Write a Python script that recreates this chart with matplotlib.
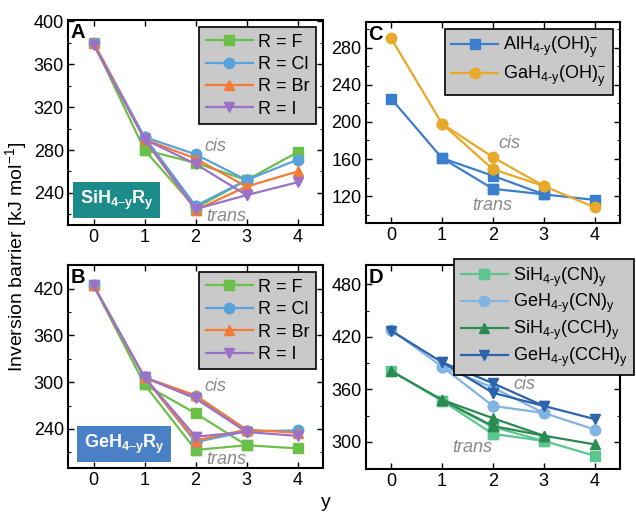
import matplotlib
matplotlib.use("Agg")
import matplotlib.pyplot as plt
from matplotlib.ticker import MultipleLocator, AutoMinorLocator

plt.rcParams['font.family'] = ['Liberation Sans', 'DejaVu Sans']
plt.rcParams['mathtext.fontset'] = 'custom'
plt.rcParams['mathtext.rm'] = 'Liberation Sans'
plt.rcParams['mathtext.it'] = 'Liberation Sans:italic'
plt.rcParams['mathtext.bf'] = 'Liberation Sans:bold'
plt.rcParams['mathtext.default'] = 'regular'

# x positions: 0, 1, 2(cis), 2(trans), 3, 4
y_vals = [0, 1, 2, 3, 4]

# Panel A: SiH4-yRy   values at [0, 1, 2cis, 2trans, 3, 4]
A_labels = ["R = F", "R = Cl", "R = Br", "R = I"]
A_F = [380, 280, 268, 226, 252, 278]
A_Cl = [380, 292, 276, 228, 252, 271]
A_Br = [380, 290, 272, 224, 246, 260]
A_I = [378, 290, 267, 225, 238, 250]

# Panel B: GeH4-yRy
B_F = [424, 297, 260, 213, 219, 215]
B_Cl = [424, 306, 282, 223, 237, 238]
B_Br = [424, 306, 283, 225, 239, 235]
B_I = [424, 306, 279, 230, 236, 231]

# Panel C
C_labels = [r"AlH$_{4\text{-y}}$(OH)$_{y}^{-}$", r"GaH$_{4\text{-y}}$(OH)$_{y}^{-}$"]
C_Al = [225, 161, 142, 128, 122, 116]
C_Ga = [290, 198, 162, 149, 131, 108]

# Panel D
D_labels = [r"SiH$_{4\text{-y}}$(CN)$_{y}$", r"GeH$_{4\text{-y}}$(CN)$_{y}$",
            r"SiH$_{4\text{-y}}$(CCH)$_{y}$", r"GeH$_{4\text{-y}}$(CCH)$_{y}$"]
D_SiCN = [381, 347, 317, 309, 301, 284]
D_GeCN = [428, 386, 362, 341, 333, 314]
D_SiCCH = [381, 348, 327, 318, 307, 297]
D_GeCCH = [427, 391, 367, 356, 341, 326]

col4 = ['#6cc04a', '#5aa2dc', '#f47a36', '#9b72c8']
mk4 = ['s', 'o', '^', 'v']

fig = plt.figure(figsize=(6.36, 5.13), dpi=100)

def draw_series(ax, vals, color, marker, label, ms=7.5, lw=1.6):
    main = [vals[0], vals[1], vals[2], vals[4], vals[5]]
    trans = [vals[1], vals[3], vals[4]]
    ax.plot(y_vals, main, color=color, marker=marker, ms=ms, lw=lw, label=label, zorder=3)
    ax.plot([1, 2, 3], trans, color=color, marker=marker, ms=ms, lw=lw, zorder=3)
    ax.plot([2], [vals[3]], color=color, marker=marker, ms=ms, lw=0, zorder=3)

def style(ax, ylim, major, letter):
    ax.set_xlim(-0.5, 4.5)
    ax.set_ylim(*ylim)
    ax.xaxis.set_major_locator(MultipleLocator(1))
    ax.yaxis.set_major_locator(MultipleLocator(major))
    ax.yaxis.set_minor_locator(AutoMinorLocator(2))
    ax.tick_params(which='both', direction='in', top=True, right=True, labelsize=13, pad=3)
    ax.tick_params(which='major', length=4, width=1)
    ax.tick_params(which='minor', length=2.5, width=0.8)
    for s in ax.spines.values():
        s.set_linewidth(1.5)
    ax.text(0.01, 0.985, letter, transform=ax.transAxes, fontsize=14.5, fontweight='bold',
            va='top', ha='left')

def legend(ax, **kw):
    opts = dict(frameon=True, fancybox=False, fontsize=13, handlelength=2.6,
                handletextpad=0.3, borderpad=0.35, labelspacing=0.3,
                borderaxespad=0.4)
    opts.update(kw)
    leg = ax.legend(**opts)
    leg.get_frame().set_facecolor('#c9c9c9')
    leg.get_frame().set_edgecolor('black')
    leg.get_frame().set_linewidth(1.2)
    leg.get_frame().set_alpha(1)
    return leg

gray = '#8a8a8a'

# Panel A
axA = fig.add_axes([0.107, 0.561, 0.401, 0.400])
for v, c, m, l in zip([A_F, A_Cl, A_Br, A_I], col4, mk4, A_labels):
    draw_series(axA, v, c, m, l)
style(axA, (210, 401), 40, 'A')
legend(axA, loc='upper right')
axA.text(2.39, 283, 'cis', color=gray, style='italic', fontsize=13, ha='center', va='center')
axA.text(2.6, 218, 'trans', color=gray, style='italic', fontsize=13, ha='center', va='center')
axA.text(0.19, 0.122, r"SiH$_{4\text{–}y}$R$_{y}$", transform=axA.transAxes, color='white',
         fontsize=13, fontweight='bold', ha='center', va='center',
         bbox=dict(boxstyle='square,pad=0.35', fc='#1b8c8a', ec='none'))

# Panel B
axB = fig.add_axes([0.107, 0.088, 0.401, 0.395])
for v, c, m, l in zip([B_F, B_Cl, B_Br, B_I], col4, mk4, A_labels):
    draw_series(axB, v, c, m, l)
style(axB, (190, 450), 60, 'B')
legend(axB, loc='upper right')
axB.text(2.39, 294, 'cis', color=gray, style='italic', fontsize=13, ha='center', va='center')
axB.text(2.6, 201, 'trans', color=gray, style='italic', fontsize=13, ha='center', va='center')
axB.text(0.22, 0.118, r"GeH$_{4\text{–}y}$R$_{y}$", transform=axB.transAxes, color='white',
         fontsize=13, fontweight='bold', ha='center', va='center',
         bbox=dict(boxstyle='square,pad=0.35', fc='#4a80c6', ec='none'))

# Panel C
axC = fig.add_axes([0.575, 0.565, 0.400, 0.393])
draw_series(axC, C_Al, '#3b7fcc', 's', C_labels[0])
draw_series(axC, C_Ga, '#e8a92a', 'o', C_labels[1])
style(axC, (91, 308), 40, 'C')
legend(axC, loc='upper right', labelspacing=0.2)
axC.text(2.32, 177, 'cis', color=gray, style='italic', fontsize=13, ha='center', va='center')
axC.text(1.98, 110, 'trans', color=gray, style='italic', fontsize=13, ha='center', va='center')

# Panel D
axD = fig.add_axes([0.575, 0.086, 0.400, 0.397])
for v, c, m, l in zip([D_SiCN, D_GeCN, D_SiCCH, D_GeCCH],
                      ['#5cc68f', '#7fb4e4', '#2a8a52', '#2d62ad'],
                      ['s', 'o', '^', 'v'], D_labels):
    draw_series(axD, v, c, m, l)
style(axD, (269, 502), 60, 'D')
legend(axD, loc='upper right', bbox_to_anchor=(0.997, 0.495),
       bbox_transform=fig.transFigure, borderaxespad=0, labelspacing=0.2)
axD.text(2.61, 365, 'cis', color=gray, style='italic', fontsize=13, ha='center', va='center')
axD.text(1.59, 293, 'trans', color=gray, style='italic', fontsize=13, ha='center', va='center')

fig.text(0.025, 0.5, r"Inversion barrier [kJ mol$^{-1}$]", rotation=90, fontsize=14,
         ha='center', va='center')
fig.text(0.512, 0.02, 'y', fontsize=14, ha='center', va='center')

fig.savefig('out.png', dpi=100)
